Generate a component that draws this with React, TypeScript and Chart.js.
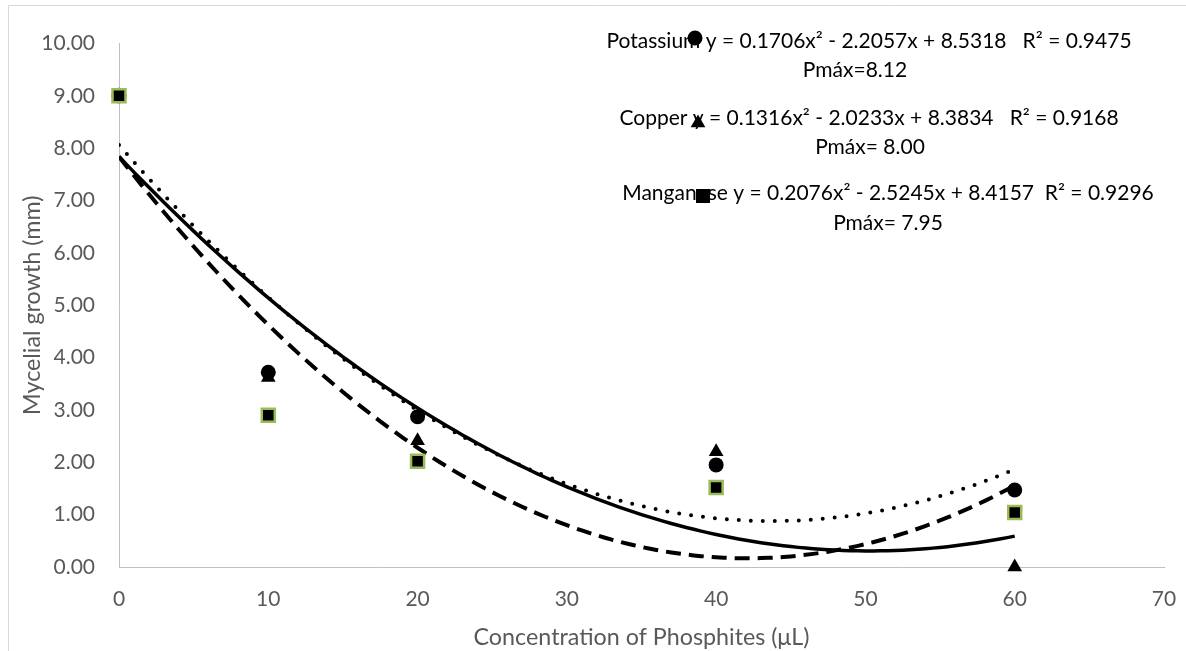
import React, { useEffect, useRef } from 'react';
import { Chart, registerables } from 'chart.js';

Chart.register(...registerables);

// ---- data ----
const concentrations = [0, 10, 20, 40, 60];
const potassium = [9.0, 3.72, 2.87, 1.95, 1.47];
const copper = [9.0, 3.62, 2.41, 2.2, 0.0];
const manganese = [9.0, 2.9, 2.02, 1.52, 1.04];

const xTickValues = [0, 10, 20, 30, 40, 50, 60, 70];
const yTickValues = [0, 1, 2, 3, 4, 5, 6, 7, 8, 9, 10];

const xTitle = 'Concentration of Phosphites (μL)';
const yTitle = 'Mycelial growth (mm)';

const equationLines = [
  'Potassium y = 0.1706x² - 2.2057x + 8.5318   R² = 0.9475',
  'Pmáx=8.12',
  'Copper y = 0.1316x² - 2.0233x + 8.3834   R² = 0.9168',
  'Pmáx= 8.00',
  'Manganese y = 0.2076x² - 2.5245x + 8.4157  R² = 0.9296',
  'Pmáx= 7.95',
];

// ---- styling / layout ----
const FONT = 'Lato, "Open Sans", sans-serif';
const GREY = '#595959';
const lineCenters = [
  [869, 41],
  [855, 70],
  [869, 118],
  [870, 147],
  [888, 193],
  [888, 223],
];
const markerSpots = {
  circle: [695, 38],
  triangle: [698, 123],
  square: [703, 196],
};
const SQUARE_BORDER = '#9BBB59';

// least-squares polynomial (order 2) trendline, like the spreadsheet's trendline
function quadFit(xs: number[], ys: number[]) {
  let n = xs.length, s1 = 0, s2 = 0, s3 = 0, s4 = 0, t0 = 0, t1 = 0, t2 = 0;
  for (let i = 0; i < xs.length; i++) {
    const x = xs[i], y = ys[i];
    s1 += x; s2 += x * x; s3 += x * x * x; s4 += x * x * x * x;
    t0 += y; t1 += x * y; t2 += x * x * y;
  }
  const det3 = (m: number[][]) =>
    m[0][0] * (m[1][1] * m[2][2] - m[1][2] * m[2][1]) -
    m[0][1] * (m[1][0] * m[2][2] - m[1][2] * m[2][0]) +
    m[0][2] * (m[1][0] * m[2][1] - m[1][1] * m[2][0]);
  const M = [[n, s1, s2], [s1, s2, s3], [s2, s3, s4]];
  const R = [t0, t1, t2];
  const D = det3(M);
  const coef = [0, 1, 2].map((k) => {
    const Mk = M.map((row, r) => row.map((v, c) => (c === k ? R[r] : v)));
    return det3(Mk) / D;
  });
  return coef; // a + b x + c x^2
}

function trendPoints(xs: number[], ys: number[]) {
  const [a, b, c] = quadFit(xs, ys);
  const lo = Math.min(...xs), hi = Math.max(...xs);
  const pts: { x: number; y: number }[] = [];
  for (let x = lo; x <= hi + 1e-9; x += 0.5) pts.push({ x, y: a + b * x + c * x * x });
  return pts;
}

const toPts = (ys: number[]) => concentrations.map((x, i) => ({ x, y: ys[i] }));

const framePlugin = {
  id: 'frame',
  beforeDraw(chart: any) {
    const { ctx, width, height } = chart;
    ctx.save();
    ctx.fillStyle = '#ffffff';
    ctx.fillRect(0, 0, width, height);
    ctx.strokeStyle = '#d9d9d9';
    ctx.lineWidth = 1;
    ctx.beginPath();
    ctx.moveTo(8.5, height + 2);
    ctx.lineTo(8.5, 5.5);
    ctx.lineTo(width + 2, 5.5);
    ctx.stroke();
    ctx.restore();
  },
  afterDraw(chart: any) {
    const { ctx } = chart;
    ctx.save();
    ctx.fillStyle = '#000000';
    ctx.font = `21px ${FONT}`;
    ctx.textAlign = 'center';
    ctx.textBaseline = 'middle';
    equationLines.forEach((t, i) => {
      const [cx, cy] = lineCenters[i];
      ctx.fillText(t, cx, cy);
    });
    // circle
    let [x, y] = markerSpots.circle;
    ctx.beginPath();
    ctx.arc(x, y, 7.5, 0, Math.PI * 2);
    ctx.fill();
    // triangle
    [x, y] = markerSpots.triangle;
    const r = 8.5;
    ctx.beginPath();
    for (let k = 0; k < 3; k++) {
      const ang = (k * 2 * Math.PI) / 3;
      const px = x + Math.sin(ang) * r;
      const py = y - Math.cos(ang) * r;
      if (k === 0) ctx.moveTo(px, py); else ctx.lineTo(px, py);
    }
    ctx.closePath();
    ctx.fill();
    // square
    [x, y] = markerSpots.square;
    ctx.fillRect(x - 7, y - 7, 14, 14);
    ctx.restore();
  },
};

export default function App() {
  const ref = useRef<HTMLCanvasElement | null>(null);

  useEffect(() => {
    if (!ref.current) return;
    const tickFont = { family: FONT, size: 21 };
    const chart = new Chart(ref.current, {
      type: 'scatter',
      data: {
        datasets: [
          {
            label: 'Manganese',
            data: toPts(manganese),
            pointStyle: 'rect',
            pointRadius: 9.2,
            backgroundColor: '#000000',
            borderColor: SQUARE_BORDER,
            borderWidth: 2.5,
            order: 1,
            clip: false,
          } as any,
          {
            label: 'Copper',
            data: toPts(copper),
            pointStyle: 'triangle',
            pointRadius: 8.5,
            backgroundColor: '#000000',
            borderColor: '#000000',
            borderWidth: 0,
            order: 2,
            clip: false,
          } as any,
          {
            label: 'Potassium',
            data: toPts(potassium),
            pointStyle: 'circle',
            pointRadius: 7.5,
            backgroundColor: '#000000',
            borderColor: '#000000',
            borderWidth: 0,
            order: 3,
            clip: false,
          } as any,
          {
            label: 'Poly. (Potassium)',
            data: trendPoints(concentrations, potassium),
            showLine: true,
            pointRadius: 0,
            borderColor: '#000000',
            borderWidth: 4,
            borderDash: [0, 12],
            borderCapStyle: 'round',
            tension: 0,
            order: 10,
          } as any,
          {
            label: 'Poly. (Copper)',
            data: trendPoints(concentrations, copper),
            showLine: true,
            pointRadius: 0,
            borderColor: '#000000',
            borderWidth: 3.5,
            tension: 0,
            order: 11,
          } as any,
          {
            label: 'Poly. (Manganese)',
            data: trendPoints(concentrations, manganese),
            showLine: true,
            pointRadius: 0,
            borderColor: '#000000',
            borderWidth: 4,
            borderDash: [15, 8],
            tension: 0,
            order: 12,
          } as any,
        ],
      },
      options: {
        animation: false,
        responsive: false,
        events: [],
        layout: { padding: { left: 0, right: 22, top: 43.5, bottom: 0 } },
        plugins: { legend: { display: false }, tooltip: { enabled: false } },
        scales: {
          x: {
            type: 'linear',
            min: 0,
            max: 70,
            afterBuildTicks: (s: any) => {
              s.ticks = xTickValues.map((v) => ({ value: v }));
            },
            ticks: { padding: 20, font: tickFont, color: GREY },
            grid: { drawOnChartArea: false, drawTicks: false },
            border: { color: '#bfbfbf', width: 1 },
            title: {
              display: true,
              text: xTitle,
              font: { family: FONT, size: 23.3 },
              color: GREY,
              padding: 0,
            },
            afterFit: (s: any) => {
              s.height = 84;
              s.paddingLeft = 0;
              s.paddingRight = 0;
            },
          },
          y: {
            type: 'linear',
            min: 0,
            max: 10,
            afterBuildTicks: (s: any) => {
              s.ticks = yTickValues.map((v) => ({ value: v }));
            },
            ticks: {
              padding: 24,
              font: tickFont,
              color: GREY,
              callback: (v: any) => Number(v).toFixed(2),
            },
            grid: { drawOnChartArea: false, drawTicks: false },
            border: { color: '#bfbfbf', width: 1 },
            title: {
              display: true,
              text: yTitle,
              font: { family: FONT, size: 23.3 },
              color: GREY,
              padding: { top: 18, bottom: 0 },
            },
            afterFit: (s: any) => {
              s.width = 119;
              s.paddingTop = 0;
              s.paddingBottom = 0;
            },
          },
        },
      } as any,
      plugins: [framePlugin],
    });
    return () => chart.destroy();
  }, []);

  return (
    <div style={{ position: 'fixed', left: 0, top: 0, width: 1186, height: 651, background: '#fff' }}>
      <canvas ref={ref} width={1186} height={651} style={{ width: 1186, height: 651, display: 'block' }} />
    </div>
  );
}
